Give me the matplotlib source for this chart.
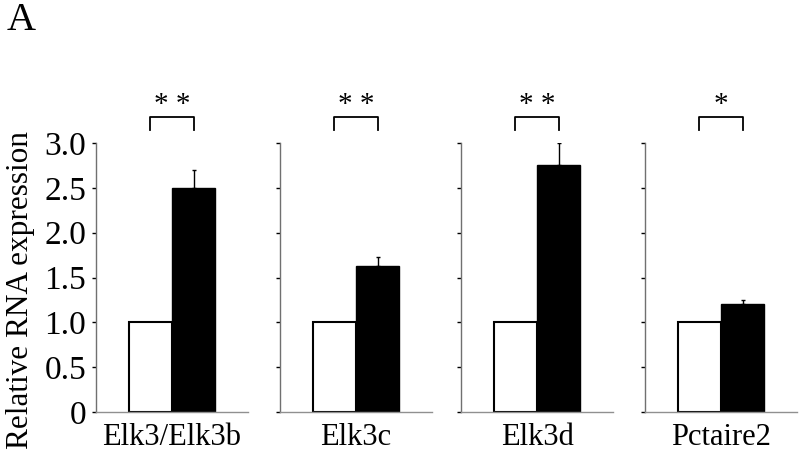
import matplotlib
matplotlib.use("Agg")
import matplotlib.pyplot as plt

genes = ["Elk3/Elk3b", "Elk3c", "Elk3d", "Pctaire2"]
control = [1.0, 1.0, 1.0, 1.0]
treated = [2.50, 1.63, 2.76, 1.20]
treated_err = [0.20, 0.10, 0.24, 0.05]
signif = ["* *", "* *", "* *", "*"]
yticks = [0, 0.5, 1.0, 1.5, 2.0, 2.5, 3.0]
ytick_labels = ["0", "0.5", "1.0", "1.5", "2.0", "2.5", "3.0"]

plt.rcParams['font.family'] = ['Liberation Serif', 'DejaVu Serif']

fig = plt.figure(figsize=(8, 4.53), dpi=100)
lefts_px = [96, 280, 461, 645]
W, H = 800, 453
for i, g in enumerate(genes):
    ax = fig.add_axes([lefts_px[i] / W, 1 - 412 / H, 152 / W, (412 - 143) / H])
    ax.bar([0], [control[i]], width=1.0, color="white", edgecolor="black", linewidth=1.5)
    ax.bar([1], [treated[i]], width=1.0, color="black", edgecolor="black", linewidth=1.0)
    ax.errorbar([1], [treated[i]], yerr=[[0], [treated_err[i]]], fmt="none",
                ecolor="black", elinewidth=1.0, capsize=1.5, capthick=1.0)
    ax.set_xlim(-1.25, 2.25)
    ax.set_ylim(0, 3.0)
    for s in ["top", "right"]:
        ax.spines[s].set_visible(False)
    ax.spines["left"].set_color("#707070")
    ax.spines["bottom"].set_color("#909090")
    ax.spines["left"].set_linewidth(1.0)
    ax.spines["bottom"].set_linewidth(1.0)
    ax.set_yticks(yticks)
    if i == 0:
        ax.set_yticklabels(ytick_labels, fontsize=24)
        ax.set_ylabel("Relative RNA expression", fontsize=22.5)
        ax.yaxis.set_label_coords(-0.40, 0.452)
    else:
        ax.set_yticklabels([])
    ax.tick_params(axis="y", direction="out", length=3, width=1.0, color="black", pad=4)
    ax.set_xticks([0.5])
    ax.set_xticklabels([g], fontsize=22)
    ax.tick_params(axis="x", length=0, pad=8)
    # significance bracket
    ax.plot([0, 0, 1, 1], [3.15, 3.29, 3.29, 3.15], color="black", lw=1.3, clip_on=False)
    ax.text(0.5, 3.42, signif[i], ha="center", va="center", fontsize=21, clip_on=False)
    ax.patch.set_alpha(0)

fig.text(0.008, 0.995, "A", fontsize=29, ha="left", va="top")
fig.savefig("out.png", dpi=100)
